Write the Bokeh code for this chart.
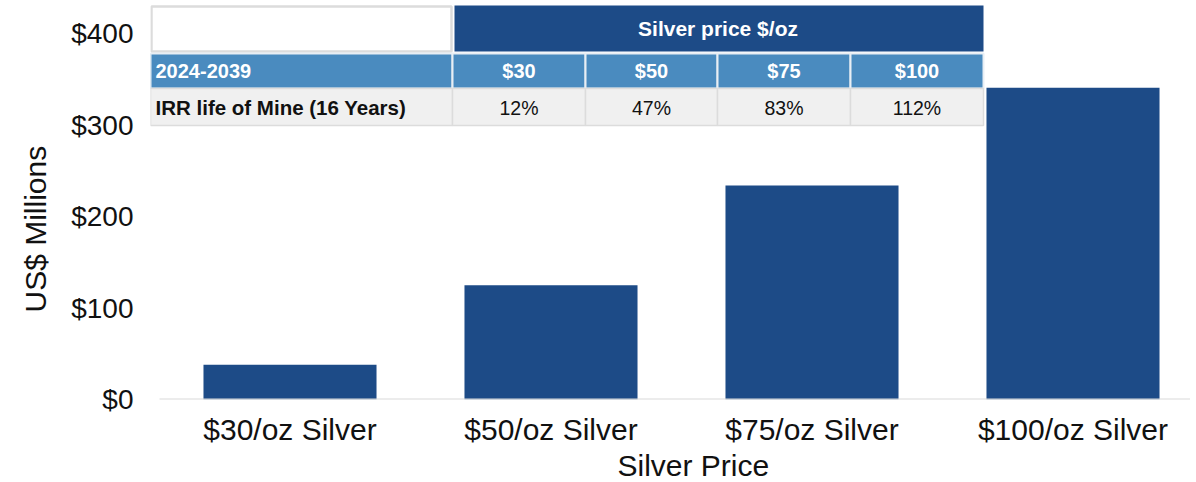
from bokeh.plotting import figure
from bokeh.models import (Range1d, FixedTicker, SingleIntervalTicker, NumeralTickFormatter,
                          ColumnDataSource, Title)
from bokeh.core.properties import value
from bokeh.embed import file_html
from bokeh.resources import INLINE

# ---------------- data ----------------
categories = ["$30/oz Silver", "$50/oz Silver", "$75/oz Silver", "$100/oz Silver"]
npv_musd = [38, 125, 234, 341]
table_header = "Silver price $/oz"
table_period = "2024-2039"
table_prices = ["$30", "$50", "$75", "$100"]
table_row_label = "IRR life of Mine (16 Years)"
irr = ["12%", "47%", "83%", "112%"]
y_title = "US$ Millions"
x_title = "Silver Price"

# ---------------- layout helpers (pixel -> data) ----------------
XPX0, XPPU = 159.0, 261.0      # px of x=0, px per category
YPX0, YPPU = 399.0, 0.914      # px of y=0, px per US$M
FRAME_L, FRAME_R, FRAME_T = 150, 1190, 0
def dx(px):
    return (px - XPX0) / XPPU
def dy(py):
    return (YPX0 - py) / YPPU

BAR = "#1D4B87"
MID = "#4A8BBF"
GRAY = "#F0F0F0"
TXT = "#111111"
FONT = "Liberation Sans"

p = figure(frame_width=FRAME_R - FRAME_L, frame_height=int(YPX0 - FRAME_T),
           output_backend="svg", toolbar_location=None,
           x_range=Range1d(dx(FRAME_L), dx(FRAME_R)), y_range=Range1d(0, dy(FRAME_T)),
           min_border_left=FRAME_L, min_border_right=0, min_border_top=0, min_border_bottom=0)
p.outline_line_color = None
p.xgrid.visible = False
p.ygrid.visible = False

xs = [i + 0.5 for i in range(len(categories))]
src = ColumnDataSource(dict(x=xs, top=npv_musd, cat=categories))
p.vbar(x="x", top="top", width=0.663, bottom=0, source=src, fill_color=BAR, line_color=None)

# axes
p.xaxis.ticker = FixedTicker(ticks=xs)
p.xaxis.major_label_overrides = {x: c for x, c in zip(xs, categories)}
p.xaxis.major_tick_line_color = None
p.xaxis.minor_tick_line_color = None
p.xaxis.axis_line_color = None
p.xaxis.major_label_standoff = 7
p.xaxis.major_label_text_font = FONT
p.xaxis.major_label_text_font_size = "30px"
p.xaxis.major_label_text_color = TXT

p.yaxis.ticker = SingleIntervalTicker(interval=100)
p.yaxis.formatter = NumeralTickFormatter(format="$0")
p.yaxis.major_tick_line_color = None
p.yaxis.minor_tick_line_color = None
p.yaxis.axis_line_color = None
p.yaxis.major_label_standoff = 11
p.yaxis.major_label_text_font = FONT
p.yaxis.major_label_text_font_size = "28px"
p.yaxis.major_label_text_color = TXT

# baseline
p.segment(x0=[0], y0=[0], x1=[dx(FRAME_R)], y1=[0], line_color="#D9D9D9", line_width=2)

# axis titles
p.add_layout(Title(text=y_title, align="left", offset=87, vertical_align="middle", standoff=32,
                   text_font=FONT, text_font_size="30px", text_font_style="normal",
                   text_color=TXT), "left")
p.add_layout(Title(text=x_title, align="left", offset=467, vertical_align="top", standoff=0,
                   text_font=FONT, text_font_size="30px", text_font_style="normal",
                   text_color=TXT), "below")

# ---------------- table ----------------
col_edges = [452, 585, 717, 850, 983]
left_px = 150
r1 = (5, 51)
r2 = (53, 88)
r3 = (88, 125)

p.quad(left=[dx(left_px + 1)], right=[dx(col_edges[0] - 1)], top=[dy(r1[0] + 1)], bottom=[dy(r1[1])],
       fill_color="white", line_color="#DCDCDC", line_width=2.5)
p.quad(left=[dx(col_edges[0] + 2)], right=[dx(col_edges[-1])], top=[dy(r1[0])], bottom=[dy(r1[1])],
       fill_color=BAR, line_color=None)
lefts = [left_px] + col_edges[:-1]
rights = col_edges
p.quad(left=[dx(v) for v in lefts], right=[dx(v) for v in rights],
       top=[dy(r2[0])] * 5, bottom=[dy(r2[1])] * 5,
       fill_color=MID, line_color="#E8EEF4", line_width=2)
p.quad(left=[dx(v) for v in lefts], right=[dx(v) for v in rights],
       top=[dy(r3[0])] * 5, bottom=[dy(r3[1])] * 5,
       fill_color=GRAY, line_color="#DCDCDC", line_width=1.5)

centers = [dx((a + b) / 2) for a, b in zip(col_edges[:-1], col_edges[1:])]
p.text(x=[dx((col_edges[0] + col_edges[-1]) / 2)], y=[dy(28)], text=[table_header],
       text_align="center", text_baseline="middle", text_color="white",
       text_font=value(FONT), text_font_style="bold", text_font_size="21px")
p.text(x=[dx(155)], y=[dy(70.5)], text=[table_period],
       text_align="left", text_baseline="middle", text_color="white",
       text_font=value(FONT), text_font_style="bold", text_font_size="20px")
p.text(x=centers, y=[dy(70.5)] * 4, text=table_prices,
       text_align="center", text_baseline="middle", text_color="white",
       text_font=value(FONT), text_font_style="bold", text_font_size="20px")
p.text(x=[dx(155)], y=[dy(107)], text=[table_row_label],
       text_align="left", text_baseline="middle", text_color=TXT,
       text_font=value(FONT), text_font_style="bold", text_font_size="20.5px")
p.text(x=centers, y=[dy(107)] * 4, text=irr,
       text_align="center", text_baseline="middle", text_color=TXT,
       text_font=value(FONT), text_font_style="normal", text_font_size="19.5px")

open("out.html", "w").write(file_html(p, INLINE))
